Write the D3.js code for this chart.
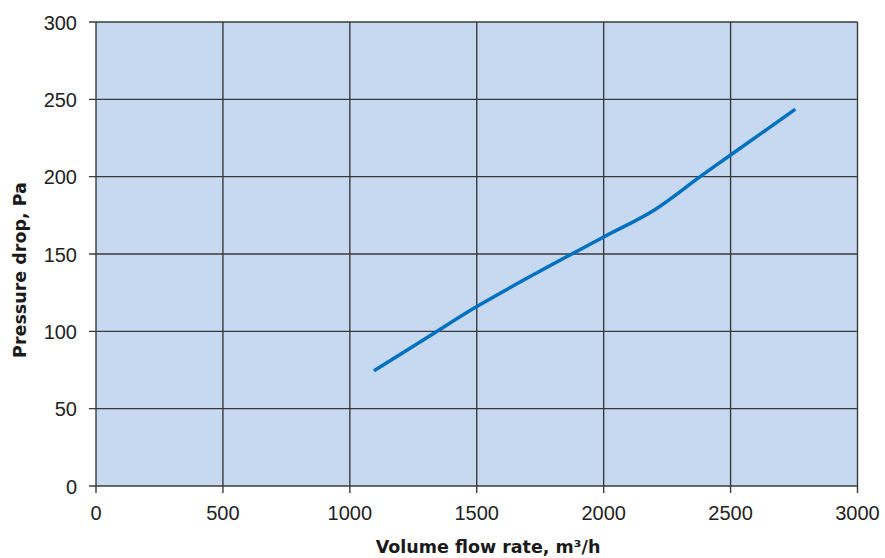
<!DOCTYPE html>
<html><head><meta charset="utf-8">
<script src="https://cdn.jsdelivr.net/npm/d3@7"></script>
<style>body{margin:0;background:#fff}svg{display:block}</style>
</head><body>
<script>
const flowRate = [1100, 1300, 1500, 1750, 2000, 2200, 2380, 2500, 2750];
const pressureDrop = [75, 95.5, 116, 139, 161, 178.5, 200, 214, 243];
const xTicks = [0, 500, 1000, 1500, 2000, 2500, 3000];
const yTicks = [0, 50, 100, 150, 200, 250, 300];
const xTitle = "Volume flow rate, m\u00B3/h";
const yTitle = "Pressure drop, Pa";

const W = 885, H = 558;
const m = {left: 96, right: 885 - 857.5, top: 22, bottom: 558 - 486};
const svg = d3.select("body").append("svg").attr("width", W).attr("height", H);
const x = d3.scaleLinear().domain([0, 3000]).range([m.left, W - m.right]);
const y = d3.scaleLinear().domain([0, 300]).range([H - m.bottom, m.top]);

svg.append("rect").attr("x", x(0)).attr("y", y(300))
  .attr("width", x(3000) - x(0)).attr("height", y(0) - y(300)).attr("fill", "#C6D9F1");

const gridColor = "#3a3a3a";
svg.append("g").selectAll("line").data(xTicks).join("line")
  .attr("x1", d => x(d)).attr("x2", d => x(d)).attr("y1", y(300)).attr("y2", y(0) + 7)
  .attr("stroke", gridColor).attr("stroke-width", 1.4);
svg.append("g").selectAll("line").data(yTicks).join("line")
  .attr("x1", x(0) - 7).attr("x2", x(3000)).attr("y1", d => y(d)).attr("y2", d => y(d))
  .attr("stroke", gridColor).attr("stroke-width", 1.4);

const font = "Liberation Sans, Arial, sans-serif";
svg.append("g").selectAll("text").data(yTicks).join("text")
  .attr("x", x(0) - 19).attr("y", d => y(d) + 7.5).attr("text-anchor", "end")
  .attr("font-family", font).attr("font-size", 20).attr("fill", "#222")
  .text(d => d);
svg.append("g").selectAll("text").data(xTicks).join("text")
  .attr("x", d => x(d)).attr("y", 520).attr("text-anchor", "middle")
  .attr("font-family", font).attr("font-size", 20).attr("fill", "#222")
  .text(d => d);

const tfont = "DejaVu Sans, Verdana, sans-serif";
svg.append("text").attr("x", 488).attr("y", 553)
  .attr("text-anchor", "middle").attr("font-family", tfont).attr("font-size", 17.5)
  .attr("font-weight", "bold").attr("fill", "#1a1a1a").text(xTitle);
svg.append("text").attr("transform", `translate(26,270) rotate(-90)`)
  .attr("text-anchor", "middle").attr("font-family", tfont).attr("font-size", 17.5)
  .attr("font-weight", "bold").attr("fill", "#1a1a1a").text(yTitle);

const pts = flowRate.map((f, i) => [f, pressureDrop[i]]);
const line = d3.line().x(d => x(d[0])).y(d => y(d[1])).curve(d3.curveCatmullRom.alpha(0.5));
svg.append("path").datum(pts).attr("d", line).attr("fill", "none")
  .attr("stroke", "#0070C0").attr("stroke-width", 3.5).attr("stroke-linecap", "round");
</script>
</body></html>
